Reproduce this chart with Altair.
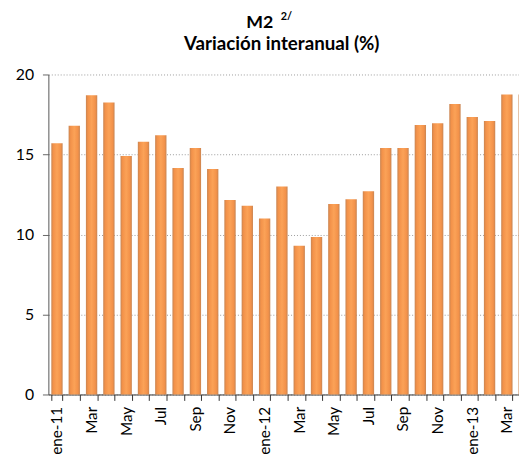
import altair as alt
import pandas as pd

meses = ["ene-11", "feb-11", "mar-11", "abr-11", "may-11", "jun-11", "jul-11", "ago-11",
         "sep-11", "oct-11", "nov-11", "dic-11",
         "ene-12", "feb-12", "mar-12", "abr-12", "may-12", "jun-12", "jul-12", "ago-12",
         "sep-12", "oct-12", "nov-12", "dic-12",
         "ene-13", "feb-13", "mar-13", "abr-13"]
etiquetas = ["ene-11", "", "Mar", "", "May", "", "Jul", "", "Sep", "", "Nov", "",
             "ene-12", "", "Mar", "", "May", "", "Jul", "", "Sep", "", "Nov", "",
             "ene-13", "", "Mar", ""]
valores = [15.7, 16.8, 18.7, 18.25, 14.9, 15.8, 16.2, 14.15, 15.4, 14.1, 12.15, 11.8,
           11.0, 13.0, 9.3, 9.85, 11.9, 12.2, 12.7, 15.4, 15.4, 16.85, 16.95, 18.15,
           17.35, 17.1, 18.75, 18.75]
y_ticks = [0, 5, 10, 15, 20]

df = pd.DataFrame({"mes": meses, "valor": valores})

FONT = "Lato"

label_expr = ("[" + ",".join("'%s'" % e for e in etiquetas) + "][indexof(["
              + ",".join("'%s'" % m for m in meses) + "], datum.value)]")

grad = alt.Gradient(
    gradient="linear", x1=0, x2=1, y1=0, y2=0,
    stops=[
        alt.GradientStop(offset=0, color="#C98552"),
        alt.GradientStop(offset=0.18, color="#F3924A"),
        alt.GradientStop(offset=0.5, color="#FBA257"),
        alt.GradientStop(offset=0.82, color="#F3924A"),
        alt.GradientStop(offset=1, color="#C98552"),
    ],
)

bars = alt.Chart(df).mark_bar(color=grad).encode(
    x=alt.X("mes:N", sort=meses, title=None,
            scale=alt.Scale(paddingInner=0.345, paddingOuter=0.17),
            axis=alt.Axis(labelExpr=label_expr, labelAngle=-90, labelFont=FONT,
                          labelFontSize=15.5, labelColor="#000000", tickBand="extent",
                          tickSize=6, tickColor="#333333", domainColor="#333333",
                          labelPadding=6, grid=False, labelOverlap=False)),
    y=alt.Y("valor:Q", title=None,
            scale=alt.Scale(domain=[0, 20], nice=False),
            axis=alt.Axis(values=y_ticks, labelFont=FONT, labelFontSize=16,
                          labelColor="#000000", tickSize=6, tickColor="#666666",
                          domainColor="#555555", labelPadding=9,
                          gridColor="#9a9a9a", gridDash=[1, 2], gridWidth=1)),
)

one = pd.DataFrame({"k": [0]})
t1 = alt.Chart(one).mark_text(font=FONT, fontSize=18, fontWeight="bold", align="left",
                              baseline="alphabetic", color="#000000").encode(
    x=alt.value(201), y=alt.value(-47), text=alt.value("M2"))
t1s = alt.Chart(one).mark_text(font=FONT, fontSize=11, fontWeight="bold", align="left",
                               baseline="alphabetic", color="#000000").encode(
    x=alt.value(236), y=alt.value(-55), text=alt.value("2/"))
t2 = alt.Chart(one).mark_text(font=FONT, fontSize=19, fontWeight="bold", align="center",
                              baseline="alphabetic", color="#000000").encode(
    x=alt.value(237), y=alt.value(-25), text=alt.value("Variación interanual (%)"))

chart = alt.layer(bars, t1, t1s, t2).properties(
    width=492, height=325,
    autosize=alt.AutoSizeParams(type="none"),
    padding={"left": 41, "top": 64, "right": -14, "bottom": 62},
).configure_view(stroke=None)

chart.save("out.html", embed_options={"renderer": "svg", "actions": False})
